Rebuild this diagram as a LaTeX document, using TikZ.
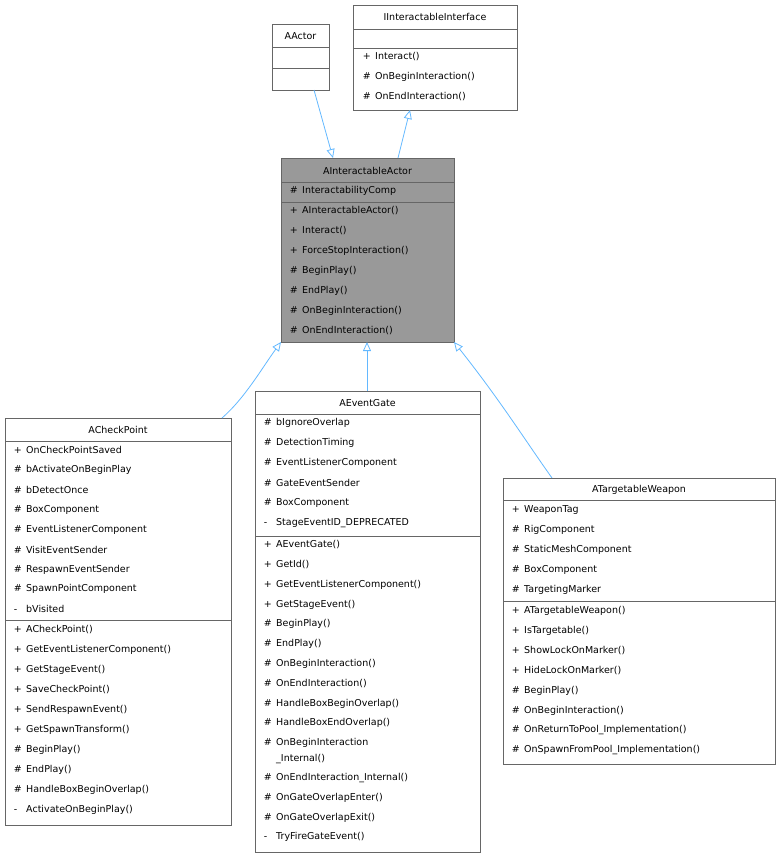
\documentclass[tikz,border=0pt]{standalone}
\usepackage{fontspec}
\setmainfont{DejaVu Sans}
\usetikzlibrary{arrows.meta}

\definecolor{edgeblue}{HTML}{63B8FF}
\definecolor{boxline}{HTML}{666666}
\definecolor{basefill}{HTML}{999999}

\tikzset{
  cls/.style={draw=boxline, line width=0.8pt, fill=white},
  title/.style={font=\fontsize{9.5}{11}\selectfont, inner sep=0pt},
  mem/.style={font=\fontsize{9.5}{11}\selectfont, anchor=west, inner sep=0pt},
  inherit/.style={draw=edgeblue, line width=0.8pt, -{Triangle[open, length=9pt, width=8pt]}}
}

\begin{document}
\begin{tikzpicture}[x=1pt, y=-1pt]
  \useasboundingbox (0,0) rectangle (781,857);

  % AActor
  \draw[cls] (272,24) rectangle (329,90);
  \draw[boxline] (272,47) -- (329,47) (272,68) -- (329,68);
  \node[title] (actor) at (300.5,36) {AActor};
  \coordinate (actorB) at (314,90);

  % IInteractableInterface
  \draw[cls] (353,5) rectangle (517,110);
  \draw[boxline] (353,29) -- (517,29) (353,48) -- (517,48);
  \node[title] (iface) at (435,17) {IInteractableInterface};
  \foreach \v/\t [count=\i from 0] in {+/Interact(),\#/OnBeginInteraction(),\#/OnEndInteraction()}
    \node[mem] (if\i) at (361,57+20*\i) {\makebox[14pt][l]{\,\v}\t};
  \coordinate (ifaceB) at (410,110);

  % AInteractableActor
  \draw[cls, fill=basefill] (281,158) rectangle (454,342);
  \draw[boxline] (281,182) -- (454,182) (281,202) -- (454,202);
  \node[title] (iact) at (367.5,171) {AInteractableActor};
  \node[mem] (ia0) at (288,191) {\makebox[14pt][l]{\,\#}InteractabilityComp};
  \foreach \v/\t [count=\i from 0] in {+/AInteractableActor(),+/Interact(),+/ForceStopInteraction(),\#/BeginPlay(),\#/EndPlay(),\#/OnBeginInteraction(),\#/OnEndInteraction()}
    \node[mem] (iam\i) at (288,211+19.9*\i) {\makebox[14pt][l]{\,\v}\t};
  \coordinate (iactT1) at (333,158);
  \coordinate (iactT2) at (398,158);
  \coordinate (iactBL) at (281,342);
  \coordinate (iactBM) at (367,342);
  \coordinate (iactBR) at (454,342);

  % ACheckPoint
  \draw[cls] (5,418) rectangle (231,825);
  \draw[boxline] (5,441) -- (231,441) (5,620) -- (231,620);
  \node[title] (chk) at (118,430) {ACheckPoint};
  \foreach \v/\t [count=\i from 0] in {+/OnCheckPointSaved,\#/bActivateOnBeginPlay,\#/bDetectOnce,\#/BoxComponent,\#/EventListenerComponent,\#/VisitEventSender,\#/RespawnEventSender,\#/SpawnPointComponent,-/bVisited}
    \node[mem] (cka\i) at (12,450+19.9*\i) {\makebox[14pt][l]{\,\v}\t};
  \foreach \v/\t [count=\i from 0] in {+/ACheckPoint(),+/GetEventListenerComponent(),+/GetStageEvent(),+/SaveCheckPoint(),+/SendRespawnEvent(),+/GetSpawnTransform(),\#/BeginPlay(),\#/EndPlay(),\#/HandleBoxBeginOverlap(),-/ActivateOnBeginPlay()}
    \node[mem] (ckm\i) at (12,630+20*\i) {\makebox[14pt][l]{\,\v}\t};
  \coordinate (chkT) at (222,418);

  % AEventGate
  \draw[cls] (255,391) rectangle (480,852);
  \draw[boxline] (255,414) -- (480,414) (255,536) -- (480,536);
  \node[title] (gate) at (367.5,403) {AEventGate};
  \foreach \v/\t [count=\i from 0] in {\#/bIgnoreOverlap,\#/DetectionTiming,\#/EventListenerComponent,\#/GateEventSender,\#/BoxComponent,-/StageEventID\_DEPRECATED}
    \node[mem] (ga\i) at (262,423+20*\i) {\makebox[14pt][l]{\,\v}\t};
  \foreach \v/\t [count=\i from 0] in {+/AEventGate(),+/GetId(),+/GetEventListenerComponent(),+/GetStageEvent(),\#/BeginPlay(),\#/EndPlay(),\#/OnBeginInteraction(),\#/OnEndInteraction(),\#/HandleBoxBeginOverlap(),\#/HandleBoxEndOverlap(),\#/OnBeginInteraction}
    \node[mem] (gm\i) at (262,545+19.8*\i) {\makebox[14pt][l]{\,\v}\t};
  \node[mem] (gmw) at (262,759) {\makebox[14pt][l]{}\_Internal()};
  \foreach \v/\t [count=\i from 0] in {\#/OnEndInteraction\_Internal(),\#/OnGateOverlapEnter(),\#/OnGateOverlapExit(),-/TryFireGateEvent()}
    \node[mem] (gn\i) at (262,778+19.7*\i) {\makebox[14pt][l]{\,\v}\t};
  \coordinate (gateT) at (367,391);

  % ATargetableWeapon
  \draw[cls] (503,478) rectangle (775,764);
  \draw[boxline] (503,500) -- (775,500) (503,601) -- (775,601);
  \node[title] (weap) at (639,490) {ATargetableWeapon};
  \foreach \v/\t [count=\i from 0] in {+/WeaponTag,\#/RigComponent,\#/StaticMeshComponent,\#/BoxComponent,\#/TargetingMarker}
    \node[mem] (wa\i) at (510,510+20*\i) {\makebox[14pt][l]{\,\v}\t};
  \foreach \v/\t [count=\i from 0] in {+/ATargetableWeapon(),+/IsTargetable(),+/ShowLockOnMarker(),+/HideLockOnMarker(),\#/BeginPlay(),\#/OnBeginInteraction(),\#/OnReturnToPool\_Implementation(),\#/OnSpawnFromPool\_Implementation()}
    \node[mem] (wm\i) at (510,611+19.9*\i) {\makebox[14pt][l]{\,\v}\t};
  \coordinate (weapT) at (552,478);

  % inheritance
  \draw[inherit] (actorB) -- (iactT1);
  \draw[inherit] (iactT2) -- (ifaceB);
  \draw[inherit] (chkT) .. controls (245,398) and (262,368) .. (iactBL);
  \draw[inherit] (gateT) -- (iactBM);
  \draw[inherit] (weapT) .. controls (525,440) and (500,400) .. (iactBR);
\end{tikzpicture}
\end{document}
